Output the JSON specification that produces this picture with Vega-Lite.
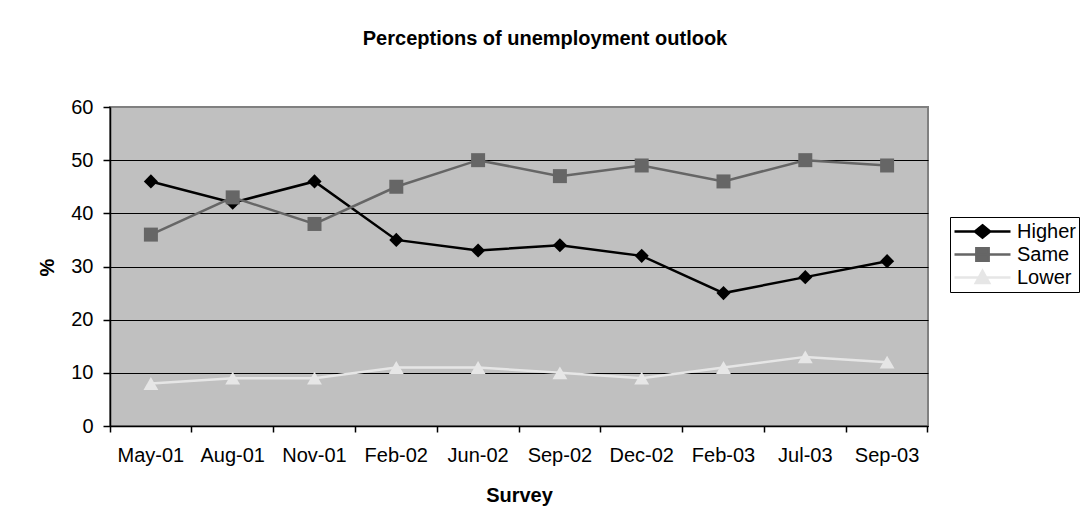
{
  "$schema": "https://vega.github.io/schema/vega-lite/v6.json",
  "width": 818,
  "height": 319,
  "autosize": {"type": "none"},
  "padding": {"left": 110, "top": 107, "right": 155, "bottom": 101},
  "background": "white",
  "title": {
    "text": "Perceptions of unemployment outlook",
    "font": "Liberation Sans",
    "fontSize": 20,
    "fontWeight": "bold",
    "color": "#000000",
    "anchor": "middle",
    "frame": "group",
    "baseline": "alphabetic",
    "offset": 32,
    "dx": 26
  },
  "config": {
    "font": "Liberation Sans",
    "view": {"fill": "#C0C0C0", "stroke": "#808080", "strokeWidth": 2},
    "axis": {
      "labelFont": "Liberation Sans",
      "labelFontSize": 20,
      "labelColor": "#000000",
      "titleFont": "Liberation Sans",
      "titleFontSize": 20,
      "titleFontWeight": "bold",
      "titleColor": "#000000",
      "domainColor": "#000000",
      "domainWidth": 1.5,
      "tickColor": "#000000",
      "tickWidth": 1.5
    }
  },
  "data": {
    "values": [
      {"Survey": "May-01", "Series": "Higher", "Value": 46},
      {"Survey": "Aug-01", "Series": "Higher", "Value": 42},
      {"Survey": "Nov-01", "Series": "Higher", "Value": 46},
      {"Survey": "Feb-02", "Series": "Higher", "Value": 35},
      {"Survey": "Jun-02", "Series": "Higher", "Value": 33},
      {"Survey": "Sep-02", "Series": "Higher", "Value": 34},
      {"Survey": "Dec-02", "Series": "Higher", "Value": 32},
      {"Survey": "Feb-03", "Series": "Higher", "Value": 25},
      {"Survey": "Jul-03", "Series": "Higher", "Value": 28},
      {"Survey": "Sep-03", "Series": "Higher", "Value": 31},
      {"Survey": "May-01", "Series": "Same", "Value": 36},
      {"Survey": "Aug-01", "Series": "Same", "Value": 43},
      {"Survey": "Nov-01", "Series": "Same", "Value": 38},
      {"Survey": "Feb-02", "Series": "Same", "Value": 45},
      {"Survey": "Jun-02", "Series": "Same", "Value": 50},
      {"Survey": "Sep-02", "Series": "Same", "Value": 47},
      {"Survey": "Dec-02", "Series": "Same", "Value": 49},
      {"Survey": "Feb-03", "Series": "Same", "Value": 46},
      {"Survey": "Jul-03", "Series": "Same", "Value": 50},
      {"Survey": "Sep-03", "Series": "Same", "Value": 49},
      {"Survey": "May-01", "Series": "Lower", "Value": 8},
      {"Survey": "Aug-01", "Series": "Lower", "Value": 9},
      {"Survey": "Nov-01", "Series": "Lower", "Value": 9},
      {"Survey": "Feb-02", "Series": "Lower", "Value": 11},
      {"Survey": "Jun-02", "Series": "Lower", "Value": 11},
      {"Survey": "Sep-02", "Series": "Lower", "Value": 10},
      {"Survey": "Dec-02", "Series": "Lower", "Value": 9},
      {"Survey": "Feb-03", "Series": "Lower", "Value": 11},
      {"Survey": "Jul-03", "Series": "Lower", "Value": 13},
      {"Survey": "Sep-03", "Series": "Lower", "Value": 12}
    ]
  },
  "encoding": {
    "x": {
      "field": "Survey",
      "type": "ordinal",
      "sort": ["May-01", "Aug-01", "Nov-01", "Feb-02", "Jun-02", "Sep-02", "Dec-02", "Feb-03", "Jul-03", "Sep-03"],
      "scale": {"type": "band", "paddingInner": 0, "paddingOuter": 0},
      "bandPosition": 0.5,
      "axis": {
        "title": "Survey",
        "titleY": 75,
        "titleBaseline": "alphabetic",
        "labelAngle": 0,
        "labelBaseline": "alphabetic",
        "labelPadding": 29,
        "tickSize": 6,
        "bandPosition": 1,
        "tickExtra": true,
        "grid": false
      }
    },
    "y": {
      "field": "Value",
      "type": "quantitative",
      "scale": {"domain": [0, 60]},
      "axis": {
        "title": "%",
        "titleAngle": -90,
        "titleX": -63,
        "titleY": 160,
        "titleAlign": "center",
        "titleBaseline": "middle",
        "values": [0, 10, 20, 30, 40, 50, 60],
        "tickSize": 7,
        "labelPadding": 10,
        "grid": true,
        "gridWidth": 1,
        "gridColor": {"condition": {"test": "datum.value === 60", "value": "#808080"}, "value": "#000000"}
      }
    },
    "color": {
      "field": "Series",
      "type": "nominal",
      "sort": ["Higher", "Same", "Lower"],
      "scale": {"domain": ["Higher", "Same", "Lower"], "range": ["#000000", "#666666", "#E6E6E6"]},
      "legend": {
        "title": null,
        "orient": "none",
        "legendX": 840,
        "legendY": 110,
        "strokeColor": "#000000",
        "fillColor": "#FFFFFF",
        "padding": 3,
        "labelFont": "Liberation Sans",
        "labelFontSize": 20,
        "labelColor": "#000000",
        "labelLimit": 0,
        "labelOffset": 5,
        "rowPadding": 0,
        "clipHeight": 23,
        "symbolSize": 3136,
        "symbolStrokeWidth": 2.5,
        "encode": {
          "symbols": {
            "update": {
              "shape": {"signal": "datum.value === 'Higher' ? 'M-1,0H1M0,-0.22L0.27,0L0,0.22L-0.27,0Z' : datum.value === 'Same' ? 'M-1,0H1M-0.22,-0.22H0.22V0.22H-0.22Z' : 'M-1,0H1M0,-0.24L0.24,0.2L-0.24,0.2Z'"},
              "fill": {"signal": "scale('color', datum.value)"},
              "stroke": {"signal": "scale('color', datum.value)"},
              "strokeWidth": {"value": 2.5},
              "opacity": {"value": 1}
            }
          }
        }
      }
    }
  },
  "layer": [
    {
      "mark": {"type": "line", "strokeWidth": 2.5}
    },
    {
      "transform": [{"filter": "datum.Series === 'Higher'"}],
      "mark": {"type": "point", "filled": true, "opacity": 1, "size": 200, "shape": "diamond"}
    },
    {
      "transform": [{"filter": "datum.Series === 'Same'"}],
      "mark": {"type": "point", "filled": true, "opacity": 1, "size": 196, "shape": "square"}
    },
    {
      "transform": [{"filter": "datum.Series === 'Lower'"}],
      "mark": {"type": "point", "filled": true, "opacity": 1, "size": 220, "shape": "triangle-up"}
    }
  ]
}
